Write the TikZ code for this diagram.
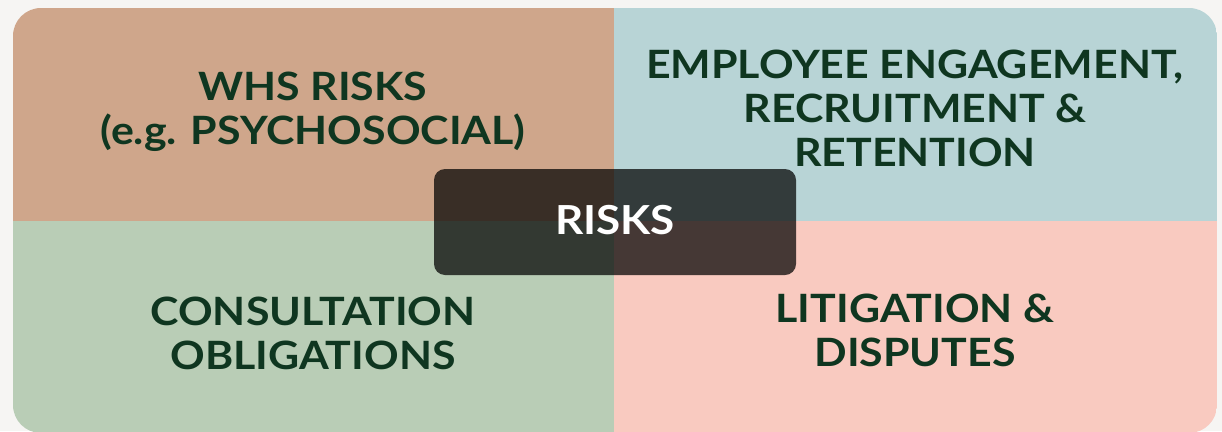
\documentclass[tikz,border=0pt]{standalone}
\usepackage{fontspec}
\setmainfont{Lato}[FakeStretch=1.1]
\usepackage{tikz}
\usetikzlibrary{positioning}
\definecolor{pagebg}{HTML}{F6F5F3}
\definecolor{whsbrown}{HTML}{CFA68B}
\definecolor{engageblue}{HTML}{B8D4D6}
\definecolor{consultgreen}{HTML}{B9CDB6}
\definecolor{litipink}{HTML}{F9CAC0}
\definecolor{textgreen}{HTML}{0F3620}

\begin{document}
\begin{tikzpicture}[
    x=1pt, y=-1pt,
    quadtext/.style={anchor=north, align=center, text=textgreen, font=\fontsize{39}{44}\selectfont\bfseries, inner sep=0pt},
    centerbox/.style={rectangle, rounded corners=11pt, fill=black, fill opacity=0.72, text opacity=1, text=white, minimum width=362pt, minimum height=106pt, text depth=5pt, font=\fontsize{40}{44}\selectfont\bfseries}
]

\fill[pagebg] (0,0) rectangle (1222,431);
\useasboundingbox (0,0) rectangle (1222,431);

% four quadrants inside one rounded frame
\begin{scope}
\clip[rounded corners=28pt] (13,8) rectangle (1217,433);
\fill[whsbrown] (13,8) rectangle (614,221);
\fill[engageblue] (614,8) rectangle (1217,221);
\fill[consultgreen] (13,221) rectangle (614,433);
\fill[litipink] (614,221) rectangle (1217,433);
\end{scope}

\node[quadtext] (whs) at (313,72) {WHS RISKS\\(e.g. PSYCHOSOCIAL)};
\node[quadtext] (engage) at (915,50) {EMPLOYEE ENGAGEMENT,\\RECRUITMENT \&\\RETENTION};
\node[quadtext] (consult) at (313,297) {CONSULTATION\\OBLIGATIONS};
\node[quadtext] (litigation) at (915,294) {LITIGATION \&\\DISPUTES};

\node[centerbox] (risks) at (615,222) {RISKS};

\end{tikzpicture}
\end{document}
